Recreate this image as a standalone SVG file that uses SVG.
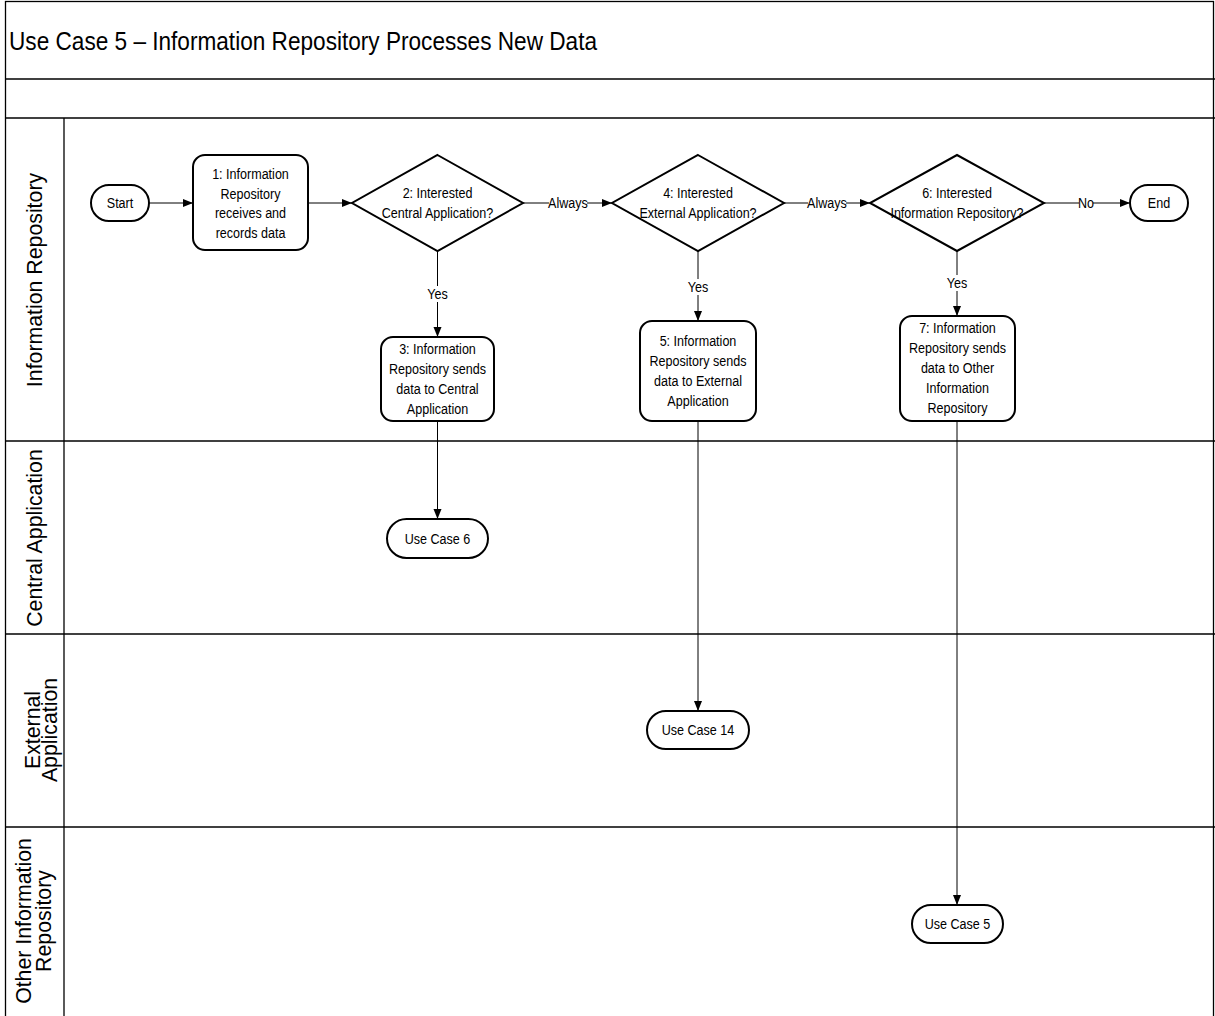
<svg xmlns="http://www.w3.org/2000/svg" width="1215" height="1016" viewBox="0 0 1215 1016">
  <style>
    .frame { fill: none; stroke: #000; stroke-width: 1.3; }
    .lane { stroke: #000; stroke-width: 1.3; }
    .shape { fill: #fff; stroke: #000; stroke-width: 2; }
    .edge { fill: none; stroke: #000; stroke-width: 1; }
    .t { font-family: "Liberation Sans", Arial, sans-serif; font-size: 15.5px; fill: #000; text-anchor: middle; }
    .title { font-family: "Liberation Sans", Arial, sans-serif; font-size: 26px; fill: #000; }
    .laneLabel { font-family: "Liberation Sans", Arial, sans-serif; font-size: 21.3px; fill: #000; text-anchor: middle; }
    .lblbg { fill: #fff; }
  </style>
  <defs>
    <marker id="arrow" markerUnits="userSpaceOnUse" markerWidth="12" markerHeight="10" refX="11" refY="5" orient="auto">
      <path d="M1,1 L11,5 L1,9 z" fill="#000"/>
    </marker>
  </defs>

  <rect width="1215" height="1016" fill="#fff"/>

  <!-- pool frame, title band and lanes -->
  <g id="pool">
    <rect class="frame" x="5.5" y="1.5" width="1208" height="1016"/>
    <line class="lane" x1="5" y1="79" x2="1215" y2="79"/>
    <line class="lane" x1="5" y1="118" x2="1215" y2="118"/>
    <line class="lane" x1="64" y1="118" x2="64" y2="1016"/>
    <line class="lane" x1="5" y1="441" x2="1215" y2="441"/>
    <line class="lane" x1="5" y1="634" x2="1215" y2="634"/>
    <line class="lane" x1="5" y1="827" x2="1215" y2="827"/>
    <text class="title" x="9" y="50" textLength="588" lengthAdjust="spacingAndGlyphs">Use Case 5 – Information Repository Processes New Data</text>
  </g>

  <g id="lane-labels">
    <text class="laneLabel" transform="translate(42,280) rotate(-90)">Information Repository</text>
    <text class="laneLabel" transform="translate(42,538) rotate(-90)">Central Application</text>
    <text class="laneLabel" transform="translate(40,730) rotate(-90)">External</text>
    <text class="laneLabel" transform="translate(57,730) rotate(-90)">Application</text>
    <text class="laneLabel" transform="translate(31,921) rotate(-90)">Other Information</text>
    <text class="laneLabel" transform="translate(51,921) rotate(-90)">Repository</text>
  </g>

  <!-- connectors -->
  <g id="connectors">
    <line class="edge" x1="149" y1="203" x2="193" y2="203" marker-end="url(#arrow)"/>
    <line class="edge" x1="308" y1="203" x2="352" y2="203" marker-end="url(#arrow)"/>
    <line class="edge" x1="523" y1="203" x2="612" y2="203" marker-end="url(#arrow)"/>
    <line class="edge" x1="784" y1="203" x2="870" y2="203" marker-end="url(#arrow)"/>
    <line class="edge" x1="1044" y1="203" x2="1130" y2="203" marker-end="url(#arrow)"/>
    <line class="edge" x1="437.5" y1="251" x2="437.5" y2="337" marker-end="url(#arrow)"/>
    <line class="edge" x1="698" y1="251" x2="698" y2="321" marker-end="url(#arrow)"/>
    <line class="edge" x1="957" y1="251" x2="957" y2="316" marker-end="url(#arrow)"/>
    <line class="edge" x1="437.5" y1="421" x2="437.5" y2="519" marker-end="url(#arrow)"/>
    <line class="edge" x1="698" y1="421" x2="698" y2="711" marker-end="url(#arrow)"/>
    <line class="edge" x1="957" y1="421" x2="957" y2="905" marker-end="url(#arrow)"/>

    <rect class="lblbg" x="549" y="195" width="38" height="16"/>
    <rect class="lblbg" x="808" y="195" width="38" height="16"/>
    <rect class="lblbg" x="1079" y="195" width="14" height="16"/>
    <rect class="lblbg" x="427" y="286" width="21" height="16"/>
    <rect class="lblbg" x="688" y="279" width="21" height="16"/>
    <rect class="lblbg" x="947" y="275" width="21" height="16"/>
    <text class="t" transform="translate(568,0) scale(0.81,1)" x="0" y="208">Always</text>
    <text class="t" transform="translate(827,0) scale(0.81,1)" x="0" y="208">Always</text>
    <text class="t" transform="translate(1086,0) scale(0.81,1)" x="0" y="208">No</text>
    <text class="t" transform="translate(437.5,0) scale(0.81,1)" x="0" y="299">Yes</text>
    <text class="t" transform="translate(698,0) scale(0.81,1)" x="0" y="292">Yes</text>
    <text class="t" transform="translate(957,0) scale(0.81,1)" x="0" y="288">Yes</text>
  </g>

  <g id="start">
    <rect class="shape" x="91" y="185" width="58" height="36" rx="18"/>
    <g transform="translate(120,0) scale(0.81,1)">
      <text class="t" x="0" y="208">Start</text>
    </g>
  </g>

  <g id="step1">
    <rect class="shape" x="193" y="155" width="115" height="95" rx="12"/>
    <g transform="translate(250.5,0) scale(0.81,1)">
      <text class="t" x="0" y="179">1: Information</text>
      <text class="t" x="0" y="199">Repository</text>
      <text class="t" x="0" y="218.5">receives and</text>
      <text class="t" x="0" y="238">records data</text>
    </g>
  </g>

  <g id="decision2">
    <polygon class="shape" points="437.5,155 523,203 437.5,251 352,203"/>
    <g transform="translate(437.5,0) scale(0.81,1)">
      <text class="t" x="0" y="198">2: Interested</text>
      <text class="t" x="0" y="218">Central Application?</text>
    </g>
  </g>

  <g id="step3">
    <rect class="shape" x="381" y="337" width="113" height="84" rx="12"/>
    <g transform="translate(437.5,0) scale(0.81,1)">
      <text class="t" x="0" y="354">3: Information</text>
      <text class="t" x="0" y="374">Repository sends</text>
      <text class="t" x="0" y="394">data to Central</text>
      <text class="t" x="0" y="414">Application</text>
    </g>
  </g>

  <g id="decision4">
    <polygon class="shape" points="698,155 784,203 698,251 612,203"/>
    <g transform="translate(698,0) scale(0.81,1)">
      <text class="t" x="0" y="198">4: Interested</text>
      <text class="t" x="0" y="218">External Application?</text>
    </g>
  </g>

  <g id="step5">
    <rect class="shape" x="640" y="321" width="116" height="100" rx="12"/>
    <g transform="translate(698,0) scale(0.81,1)">
      <text class="t" x="0" y="346">5: Information</text>
      <text class="t" x="0" y="366">Repository sends</text>
      <text class="t" x="0" y="386">data to External</text>
      <text class="t" x="0" y="406">Application</text>
    </g>
  </g>

  <g id="decision6">
    <polygon class="shape" points="957,155 1044,203 957,251 870,203"/>
    <g transform="translate(957,0) scale(0.81,1)">
      <text class="t" x="0" y="198">6: Interested</text>
      <text class="t" x="0" y="218">Information Repository?</text>
    </g>
  </g>

  <g id="step7">
    <rect class="shape" x="900" y="316" width="115" height="105" rx="12"/>
    <g transform="translate(957.5,0) scale(0.81,1)">
      <text class="t" x="0" y="333">7: Information</text>
      <text class="t" x="0" y="353">Repository sends</text>
      <text class="t" x="0" y="373">data to Other</text>
      <text class="t" x="0" y="393">Information</text>
      <text class="t" x="0" y="413">Repository</text>
    </g>
  </g>

  <g id="end">
    <rect class="shape" x="1130" y="185" width="58" height="36" rx="18"/>
    <g transform="translate(1159,0) scale(0.81,1)">
      <text class="t" x="0" y="208">End</text>
    </g>
  </g>

  <g id="usecase6">
    <rect class="shape" x="387" y="519" width="101" height="39" rx="19.5"/>
    <g transform="translate(437.5,0) scale(0.81,1)">
      <text class="t" x="0" y="544">Use Case 6</text>
    </g>
  </g>

  <g id="usecase14">
    <rect class="shape" x="647" y="711" width="102" height="38" rx="19"/>
    <g transform="translate(698,0) scale(0.81,1)">
      <text class="t" x="0" y="735">Use Case 14</text>
    </g>
  </g>

  <g id="usecase5">
    <rect class="shape" x="912" y="905" width="91" height="38" rx="19"/>
    <g transform="translate(957.5,0) scale(0.81,1)">
      <text class="t" x="0" y="929">Use Case 5</text>
    </g>
  </g>
</svg>
